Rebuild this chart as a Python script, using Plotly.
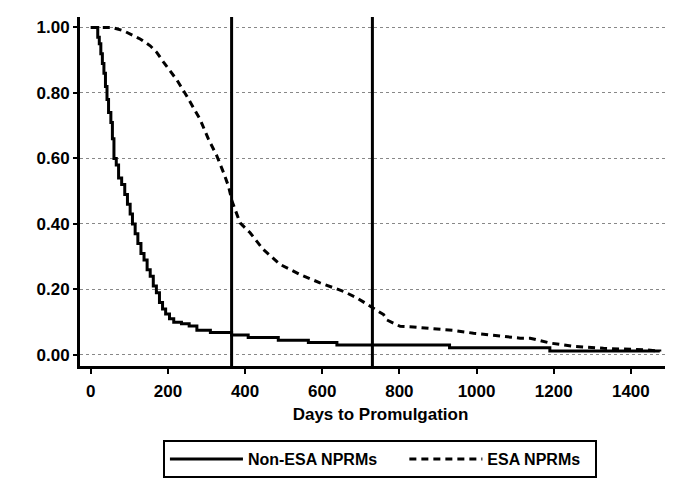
import plotly.graph_objects as go

# Non-ESA NPRMs survival curve (step points)
non_esa_days = [0, 15, 18, 22, 26, 30, 34, 38, 42, 46, 52, 56, 60, 66, 72, 80, 88, 95, 102, 108,
                115, 122, 130, 138, 146, 154, 162, 170, 178, 186, 194, 204, 215, 235, 255, 275,
                310, 365, 408, 486, 564, 638, 930, 1190, 1475]
non_esa_surv = [1.00, 1.00, 0.97, 0.95, 0.92, 0.89, 0.86, 0.82, 0.78, 0.74, 0.71, 0.66, 0.60, 0.58,
                0.54, 0.52, 0.49, 0.46, 0.43, 0.40, 0.37, 0.34, 0.31, 0.29, 0.26, 0.24, 0.21, 0.19,
                0.16, 0.14, 0.125, 0.11, 0.10, 0.095, 0.088, 0.075, 0.068, 0.061, 0.053, 0.045,
                0.038, 0.030, 0.022, 0.012, 0.010]

# ESA NPRMs survival curve
esa_days = [0, 55, 85, 128, 154, 171, 188, 201, 223, 249, 283, 305, 327, 344, 357, 366, 387, 413,
            447, 491, 543, 594, 655, 690, 724, 759, 767, 802, 836, 940, 992, 1035, 1113, 1139,
            1191, 1251, 1329, 1441, 1468]
esa_surv = [1.00, 1.00, 0.99, 0.965, 0.944, 0.924, 0.895, 0.875, 0.84, 0.79, 0.72, 0.659, 0.607,
            0.557, 0.515, 0.47, 0.403, 0.373, 0.322, 0.276, 0.245, 0.22, 0.194, 0.174, 0.148,
            0.123, 0.107, 0.087, 0.085, 0.075, 0.066, 0.061, 0.051, 0.051, 0.036, 0.026, 0.020,
            0.015, 0.012]

series_names = ["Non-ESA NPRMs", "ESA NPRMs"]
ref_days = [365, 730]
x_ticks = [0, 200, 400, 600, 800, 1000, 1200, 1400]
y_ticks = [0.0, 0.2, 0.4, 0.6, 0.8, 1.0]
y_tick_labels = ["0.00", "0.20", "0.40", "0.60", "0.80", "1.00"]

FONT = "Liberation Sans, Arial, sans-serif"
NBSP = "\u00a0"

fig = go.Figure()
fig.add_trace(go.Scatter(
    x=non_esa_days, y=non_esa_surv, mode="lines", name=series_names[0] + NBSP * 5,
    line=dict(color="black", width=3, shape="hv"),
))
fig.add_trace(go.Scatter(
    x=esa_days, y=esa_surv, mode="lines", name=series_names[1] + NBSP * 2,
    line=dict(color="black", width=3, dash="7px,5px"),
))

for d in ref_days:
    fig.add_shape(type="line", xref="x", yref="paper", x0=d, x1=d, y0=0, y1=1,
                  line=dict(color="black", width=3))

# page body has an 8px margin, so plot area is offset accordingly
fig.update_layout(
    width=673, height=481,
    margin=dict(l=72, r=0, t=9, b=123, autoexpand=False),
    paper_bgcolor="white", plot_bgcolor="white",
    font=dict(family=FONT, color="black", size=17),
    showlegend=True,
    legend=dict(
        orientation="h", x=0.138, xanchor="left", y=-0.212, yanchor="top",
        bordercolor="black", borderwidth=2,
        font=dict(family=FONT, size=16, weight="bold", color="black"),
        itemwidth=73, tracegroupgap=0,
    ),
)
fig.update_xaxes(
    range=[-28, 1530], tickvals=x_ticks, showgrid=False, zeroline=False, automargin=False,
    showline=True, linecolor="black", linewidth=3,
    ticks="outside", ticklen=5, tickwidth=2, tickcolor="black", ticklabelstandoff=3,
    tickfont=dict(family=FONT, size=17, weight="bold"),
    title=dict(text="Days to Promulgation", standoff=8,
               font=dict(family=FONT, size=17, weight="bold")),
)
fig.update_yaxes(
    range=[-0.034, 1.032], tickvals=y_ticks, ticktext=y_tick_labels, automargin=False,
    showgrid=True, gridcolor="#888888", gridwidth=1, griddash="dot", zeroline=False,
    showline=True, linecolor="black", linewidth=3,
    ticks="outside", ticklen=4, tickwidth=2, tickcolor="black",
    tickfont=dict(family=FONT, size=17, weight="bold"),
)

fig.write_html("out.html")
